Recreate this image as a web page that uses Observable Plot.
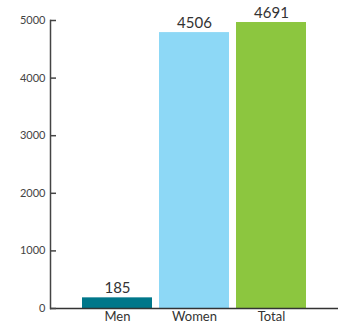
<!DOCTYPE html>
<html>
<head>
<meta charset="utf-8">
<script src="https://cdn.jsdelivr.net/npm/d3@7"></script>
<script src="https://cdn.jsdelivr.net/npm/@observablehq/plot@0.6"></script>
<style>
  html, body { margin: 0; padding: 0; background: #fff; }
  #chart svg { display: block; }
</style>
</head>
<body>
<div id="chart"></div>
<script>
const categories = ["Men", "Women", "Total"];
const barValues = [185, 4790, 4965];
const valueLabels = ["185", "4506", "4691"];
const colors = ["#00778a", "#8dd8f6", "#8cc63f"];
const yTicks = [0, 1000, 2000, 3000, 4000, 5000];

const data = categories.map((c, i) => ({cat: c, value: barValues[i], label: valueLabels[i], color: colors[i]}));

const chart = Plot.plot({
  width: 338,
  height: 326,
  marginTop: 20,
  marginBottom: 18,
  marginLeft: 50,
  marginRight: 0,
  style: {fontFamily: "Lato, sans-serif", color: "#333", background: "#fff"},
  x: {domain: categories, paddingInner: 0.091, paddingOuter: 0.4156, label: null},
  y: {domain: [0, 5000], label: null},
  marks: [
    Plot.barY(data, {x: "cat", y: "value", fill: "color"}),
    Plot.text(data, {x: "cat", y: "value", text: "label", lineAnchor: "bottom", dy: -5, fontSize: 15, fill: "#333"}),
    Plot.frame({anchor: "left", stroke: "#444", strokeWidth: 1.5}),
    Plot.ruleY([0], {stroke: "#333", strokeWidth: 1.5}),
    Plot.axisY(yTicks, {tickSize: -6, tickPadding: 11, tickFormat: d3.format("d"), fontSize: 11, stroke: "#444", fill: "#444", strokeWidth: 1.5}),
    Plot.axisX({tickSize: 0, tickPadding: 3, fontSize: 13, fill: "#333"})
  ]
});
document.getElementById("chart").appendChild(chart);
</script>
</body>
</html>
